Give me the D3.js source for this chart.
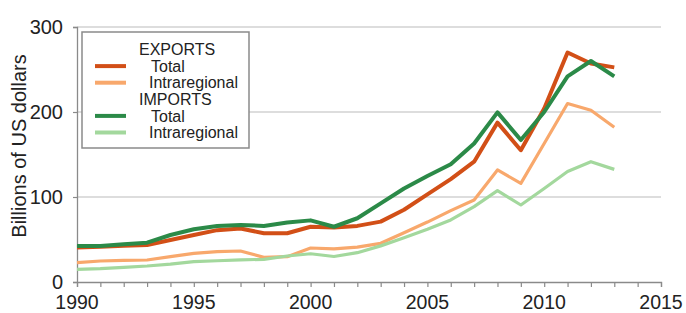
<!DOCTYPE html>
<html><head><meta charset="utf-8">
<script src="https://cdn.jsdelivr.net/npm/d3@7"></script>
<style>html,body{margin:0;padding:0;background:#fff;}svg{display:block;font-family:"Liberation Sans",Arial,sans-serif;}</style>
</head><body>
<script>
const years = d3.range(1990, 2014);
const exportsTotal = [40.5,41.5,42.7,43.5,49.4,55.3,61,63,57.3,57.3,65,64,66,71,85,103,121,141.5,187.5,155,204,270,257,252.5];
const exportsIntra = [22.7,24.7,25.5,25.9,29.8,33.7,35.7,36.5,29,29.8,40,39,41,45.5,58,70.5,84,96.5,131.8,116,163,210,202,182];
const importsTotal = [42.4,42.4,44.3,46.3,55.3,62,65.9,67,66,70,72.5,65,75,92.5,110,124.7,138.5,163,199.6,167,200,242,260,242];
const importsIntra = [14.9,15.7,17.3,18.8,21,23.9,25,26,26.7,30.6,33.2,30,34.5,42.5,52,62,73,88.6,107.5,90.6,110,130,141.5,132.5];
const yTicks = [0,100,200,300];
const xTicks = [1990,1995,2000,2005,2010,2015];
const legendHeads = ["EXPORTS","IMPORTS"];
const legendLabels = ["Total","Intraregional"];

const series = [
  {name:"Exports total", values:exportsTotal, color:"#d24f17", w:4},
  {name:"Exports intra", values:exportsIntra, color:"#f8a86c", w:3.2},
  {name:"Imports total", values:importsTotal, color:"#2b8a48", w:4},
  {name:"Imports intra", values:importsIntra, color:"#a3d89d", w:3.2}
];

const W=686,H=313;
const svg=d3.select("body").append("svg").attr("width",W).attr("height",H);
const x=d3.scaleLinear().domain([1990,2015]).range([77,661]);
const y=d3.scaleLinear().domain([0,300]).range([282,27]);

// gridlines
svg.append("g").selectAll("line").data(yTicks.filter(d=>d>0)).join("line")
  .attr("x1",x(1990)).attr("x2",x(2015)).attr("y1",d=>y(d)).attr("y2",d=>y(d))
  .attr("stroke","#d2d2d2").attr("stroke-width",1.6);

// x axis
const xa=svg.append("g").attr("transform",`translate(0,${y(0)})`)
  .call(d3.axisBottom(x).tickValues(d3.range(1990,2016)).tickSize(5).tickFormat(""));
xa.select(".domain").attr("stroke","#8a8a8a").attr("stroke-width",1.3);
xa.selectAll(".tick line").attr("stroke","#8a8a8a").attr("stroke-width",1.2);
svg.append("g").selectAll("text").data(xTicks).join("text")
  .attr("x",d=>x(d)).attr("y",308.5).attr("text-anchor","middle")
  .attr("font-size",19.5).attr("fill","#222").text(d=>d);

// y axis
const ya=svg.append("g").attr("transform",`translate(${x(1990)},0)`)
  .call(d3.axisLeft(y).tickValues(yTicks).tickSize(4).tickFormat(""));
ya.select(".domain").attr("stroke","#8a8a8a").attr("stroke-width",1.3);
ya.selectAll(".tick line").attr("stroke","#8a8a8a").attr("stroke-width",1.2);
svg.append("g").selectAll("text").data(yTicks).join("text")
  .attr("x",63).attr("y",d=>y(d)).attr("dy","0.36em").attr("text-anchor","end")
  .attr("font-size",20).attr("fill","#222").text(d=>d);

svg.append("text").attr("transform","translate(26,146) rotate(-90)")
  .attr("text-anchor","middle").attr("font-size",20).attr("fill","#222")
  .text("Billions of US dollars");

// lines
const line=d3.line().x((d,i)=>x(years[i])).y(d=>y(d));
const drawOrder=[1,3,0,2];
svg.append("g").selectAll("path").data(drawOrder.map(i=>series[i])).join("path")
  .attr("d",s=>line(s.values)).attr("fill","none")
  .attr("stroke",s=>s.color).attr("stroke-width",s=>s.w)
  .attr("stroke-linejoin","round");

// legend
const lg=svg.append("g");
lg.append("rect").attr("x",82).attr("y",32).attr("width",167).attr("height",116)
  .attr("fill","#fff").attr("stroke","#8a8a8a").attr("stroke-width",1.5);
const rows=[
  {t:legendHeads[0],head:true},
  {t:legendLabels[0],s:series[0]},
  {t:legendLabels[1],s:series[1]},
  {t:legendHeads[1],head:true},
  {t:legendLabels[0],s:series[2]},
  {t:legendLabels[1],s:series[3]}
];
rows.forEach((r,i)=>{
  const cy=49.5+i*16.6;
  if(r.s){
    lg.append("line").attr("x1",95).attr("x2",126).attr("y1",cy).attr("y2",cy)
      .attr("stroke",r.s.color).attr("stroke-width",4);
  }
  const tx = r.head?139:(r.t==="Total"?151:149);
  lg.append("text").attr("x",tx).attr("y",cy).attr("dy","0.36em")
    .attr("font-size",16).attr("fill","#222").text(r.t);
});
</script>
</body></html>
